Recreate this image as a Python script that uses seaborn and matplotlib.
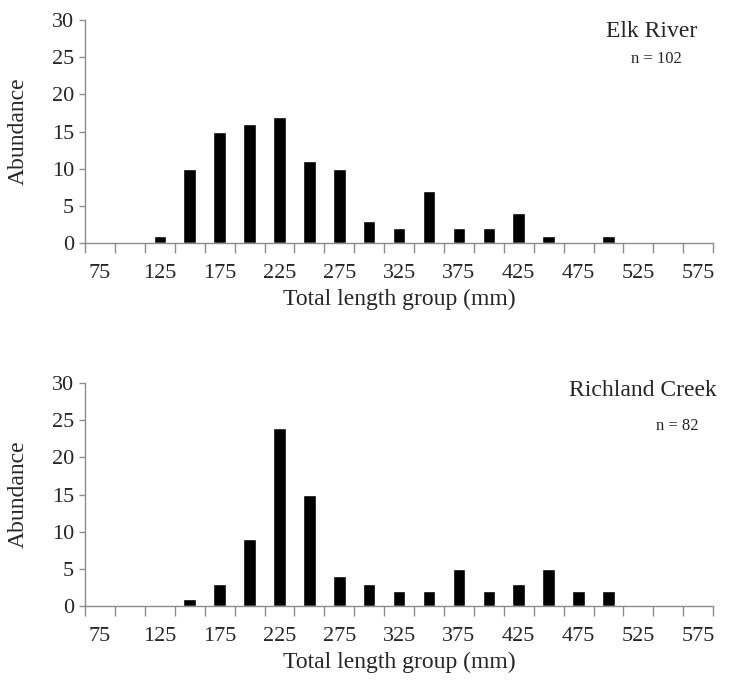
import matplotlib
matplotlib.use("Agg")
import matplotlib.pyplot as plt
import seaborn as sns
import pandas as pd
import numpy as np

length_groups = [75, 100, 125, 150, 175, 200, 225, 250, 275, 300, 325,
                 350, 375, 400, 425, 450, 475, 500, 525, 550, 575]
elk_river = [0, 0, 1, 10, 15, 16, 17, 11, 10, 3, 2, 7, 2, 2, 4, 1, 0, 1, 0, 0, 0]
richland_creek = [0, 0, 0, 1, 3, 9, 24, 15, 4, 3, 2, 2, 5, 2, 3, 5, 2, 2, 0, 0, 0]
panel_titles = ["Elk River", "Richland Creek"]
panel_n = ["n = 102", "n = 82"]
y_ticks = [0, 5, 10, 15, 20, 25, 30]
x_label = "Total length group (mm)"
y_label = "Abundance"

sns.set_style("white")
plt.rcParams["font.family"] = ["Liberation Serif", "DejaVu Serif"]

fig = plt.figure(figsize=(7.33, 6.85), dpi=100)
axes = [fig.add_axes([0.116, 0.645, 0.857, 0.326]),
        fig.add_axes([0.116, 0.115, 0.857, 0.326])]

cats = [str(v) for v in length_groups]
spine_c = "#8c8c8c"
title_pos = [(0.975, 0.995), (1.006, 1.015)]
n_pos = [(0.95, 0.86), (0.976, 0.845)]

for ax, vals, title, ntxt, tpos, npos in zip(axes, [elk_river, richland_creek], panel_titles,
                                            panel_n, title_pos, n_pos):
    df = pd.DataFrame({"group": cats, "abund": vals})
    sns.barplot(data=df, x="group", y="abund", order=cats, color="black",
                width=0.42, saturation=1, ax=ax)
    ax.set_xlim(-0.5, len(cats) - 0.5)
    ax.set_ylim(0, 30)
    ax.set_yticks(y_ticks)
    ax.set_yticklabels([str(t) for t in y_ticks], fontsize=16)
    ax.set_xticks(range(0, len(cats), 2))
    ax.set_xticklabels(cats[::2], fontsize=16)
    ax.set_xticks(np.arange(-0.5, len(cats), 1.0), minor=True)
    ax.tick_params(axis="x", which="both", bottom=True)
    ax.tick_params(axis="y", which="major", left=True)
    ax.tick_params(axis="x", which="major", length=0, pad=15)
    ax.tick_params(axis="x", which="minor", length=7, width=1, color=spine_c, direction="out")
    ax.tick_params(axis="y", which="major", length=4, width=1, color=spine_c, direction="out", pad=4)
    for s in ["top", "right"]:
        ax.spines[s].set_visible(False)
    for s in ["left", "bottom"]:
        ax.spines[s].set_color(spine_c)
        ax.spines[s].set_linewidth(1)
    ax.set_xlabel(x_label, fontsize=17, labelpad=4)
    ax.set_ylabel(y_label, fontsize=17, labelpad=6)
    ax.yaxis.set_label_coords(-0.09, 0.5)
    ax.text(tpos[0], tpos[1], title, transform=ax.transAxes, ha="right", va="top", fontsize=17)
    ax.text(npos[0], npos[1], ntxt, transform=ax.transAxes, ha="right", va="top", fontsize=12)

fig.savefig("out.png", dpi=100, facecolor="white")
